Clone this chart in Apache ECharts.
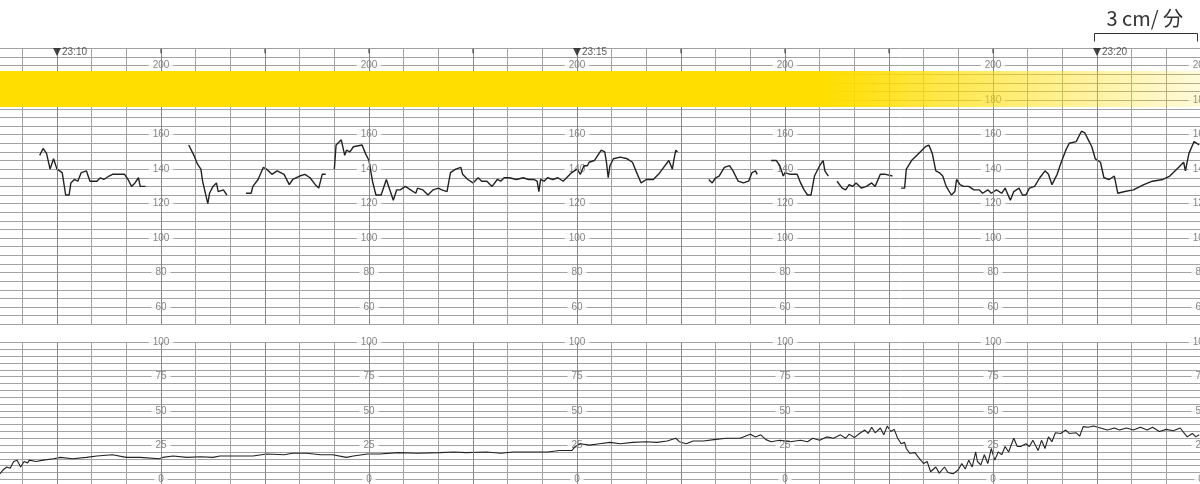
<!DOCTYPE html>
<html><head><meta charset="utf-8">
<script src="https://cdn.jsdelivr.net/npm/echarts@6/dist/echarts.min.js"></script>
<style>html,body{margin:0;padding:0;background:#fff}#c{width:1200px;height:484px}</style>
</head><body><div id="c"></div>
<script>
// time in seconds relative to 23:10:00, fetal heart rate (bpm); null = signal loss
const fhrTrace = [
[-10,148],[-8,152],[-6,149],[-4,140],[-3,140],[-2,146],[-1,146],[0,140],[3,138],[5,125],[7,125],[8,132],[10,134],[12,133],[14,138],[17,139],[19,133],[23,133],[25,135],[27,134],[30,136],[32,137],[39,137],[41,134],[43,130],[45,132],[47,135],[48,130],[49,131],[51,130],
[63,null],
[76,154],[79,148],[81,143],[83,140],[84,133],[87,120],[88,126],[90,130],[92,132],[93,127],[96,128],[98,125],
[104,null],
[109,126],[112,126],[113,130],[116,134],[119,141],[121,140],[124,137],[127,139],[131,137],[134,131],[136,134],[140,136],[143,137],[146,135],[149,131],[151,129],[153,137],[155,137],
[158,null],
[160,140],[161,154],[164,157],[166,148],[167,151],[169,150],[171,153],[176,154],[178,149],[180,145],[182,133],[184,125],[187,125],[190,134],[192,128],[194,122],[196,128],[198,128],[201,130],[204,128],[207,126],[208,129],[211,128],[214,125],[217,128],[220,129],[222,128],[225,127],[227,138],[230,140],[233,141],[234,137],[237,134],[240,132],[243,135],[245,133],[248,133],[251,130],[254,134],[256,133],[258,135],[261,135],[265,134],[269,135],[272,134],[275,134],[277,133],[278,127],[279,134],[281,133],[283,135],[286,134],[289,135],[292,133],[295,136],[297,138],[300,140],[302,137],[304,142],[306,142],[307,144],[310,145],[312,148],[314,151],[316,150],[317,144],[318,135],[319,142],[321,146],[325,147],[329,146],[332,144],[334,139],[337,132],[340,134],[344,134],[347,137],[350,141],[353,145],[354,144],[355,140],[356,146],[357,151],[358,150],
[365,null],
[376,134],[378,132],[380,135],[382,136],[385,141],[388,142],[390,139],[393,133],[396,132],[399,133],[401,138],[403,139],[404,137],
[408,null],
[412,145],[413,146],[415,145],[416,146],[417,142],[419,136],[420,138],[423,137],[427,137],[429,132],[431,128],[433,125],[435,125],[437,136],[440,142],[442,145],[443,139],[445,136],
[447,null],
[450,133],[453,129],[455,128],[457,131],[459,130],[461,132],[464,129],[467,130],[470,132],[472,130],[475,137],[478,137],[482,136],
[485,null],
[487,129],[489,129],[490,140],[493,145],[497,149],[501,153],[503,154],[505,149],[507,139],[509,138],[511,136],[513,130],[516,125],[518,127],[519,134],[521,131],[523,130],[526,130],[529,128],[532,128],[534,126],[537,128],[539,126],[542,128],[545,126],[547,129],[550,122],[552,127],[555,129],[557,125],[559,125],[561,129],[564,130],[567,135],[570,139],[572,137],[574,131],[577,137],[579,143],[582,151],[584,155],[588,156],[591,162],[593,161],[595,157],[597,153],[599,146],[602,144],[604,135],[607,134],[610,136],[612,126],[616,127],[621,128],[627,131],[632,133],[638,134],[642,136],[646,140],[650,144],[651,139],[653,149],[656,156],[659,154]
];
// uterine activity
const uaTrace = [
[-33,4],[-31,7],[-29,9],[-27,8],[-25,13],[-23,14],[-21,9],[-19,13],[-17,12],[-16,14],[-12,13],[-8,14],[-2,15],[2,16],[9,15],[17,16],[23,17],[32,18],[40,16],[48,16],[59,15],[61,16],[67,17],[75,16],[83,16.5],[90,16],[94,17],[102,17],[113,17],[121,18.5],[131,18],[136,19],[144,19],[152,18],[159,18],[167,16],[171,17],[179,18.5],[186,18.5],[197,19.5],[208,19],[221,19.5],[229,20],[236,19.5],[248,20],[256,19],[263,20],[275,20],[283,20],[290,21],[297,21],[299,24],[302,26],[307,25],[313,26],[319,27],[325,26],[332,27],[340,27.5],[346,27],[352,28],[357,30],[359,27.5],[363,26],[367,28],[373,28],[379,29],[386,30],[394,30],[400,33],[403,31],[406,32.5],[409,29],[412,27.5],[417,28.5],[423,27.5],[429,28.5],[433,27.5],[436,30],[440,28.5],[444,31],[448,30],[452,32.5],[455,30],[457,33],[460,30.5],[463,33.5],[466,36],[468,33.5],[470,38],[472,34],[475,37.5],[477,32.5],[479,39],[481,35],[483,36.5],[485,30],[487,26],[489,27],[490,22.5],[492,19],[495,19.5],[497,16],[500,11.5],[502,13],[504,5.5],[507,9],[509,4.5],[512,9],[514,5],[517,4],[520,7],[522,11.5],[524,7.5],[526,14],[528,9],[530,20],[531,13],[533,10.5],[535,18],[537,11.5],[539,22.5],[541,14],[543,20],[545,18],[547,24],[549,20],[552,30],[554,24],[556,24],[559,26],[561,24],[563,28.5],[566,21],[568,28.5],[570,22.5],[572,31],[574,27.5],[576,34],[579,33.5],[582,36],[584,33.5],[588,34],[590,31.5],[592,38.5],[595,38],[598,39],[602,37.5],[606,36],[610,37.5],[613,36],[617,37.5],[621,36],[625,38],[629,36],[632,38],[636,35],[640,36.5],[644,35.5],[648,37.5],[652,31],[655,33.5],[657,31],[659,32.5]
];
const fhrTickLabels = [200,180,160,140,120,100,80,60];
const uaTickLabels = [100,75,50,25,0];
const labelSeconds = [60,180,300,420,540,660];
const timeMarkSeconds = [0,300,600];
const timeMarkLabels = ['23:10','23:15','23:20'];
const minuteSeconds = [0,60,120,180,240,300,360,420,480,540,600,660];
const minuteTickSeconds = [60,120,180,240,360,420,480,540,660];
const highlightBand = [176,197];
const speedText = '3 cm/ 分';

const chart = echarts.init(document.getElementById('c'), null, {renderer:'canvas'});
const FONT = '"Liberation Sans", Arial, sans-serif';
const gridColor = '#a2a2a2';
const minuteColor = '#888';

function xAxis(gi){
  return {type:'value', gridIndex:gi, min:-40, max:660, interval:20,
    axisLine:{show:false}, axisTick:{show:false}, axisLabel:{show:false},
    splitLine:{show:true, lineStyle:{color:gridColor, width:1}}};
}
function yAxis(gi, mn, mx){
  return {type:'value', gridIndex:gi, min:mn, max:mx, interval:5,
    axisLine:{show:false}, axisTick:{show:false}, axisLabel:{show:false},
    splitLine:{show:true, lineStyle:{color:gridColor, width:1}}};
}
const tickLabelStyle = {show:true, position:'inside', fontSize:10, color:'#666', fontFamily:FONT,
  backgroundColor:'#fff', padding:[0,4], formatter:p=>String(p.value[1])};

const fhrLabelData = [];
labelSeconds.forEach(s=>fhrTickLabels.forEach(v=>fhrLabelData.push([s,v])));
const uaLabelData = [];
labelSeconds.forEach(s=>uaTickLabels.forEach(v=>uaLabelData.push([s,v])));

const minuteLines = minuteSeconds.map(s=>({xAxis:s}));

const band = new echarts.graphic.LinearGradient(0,0,1,0,[
  {offset:0, color:'rgba(255,222,0,1)'},
  {offset:0.69, color:'rgba(255,222,0,1)'},
  {offset:0.84, color:'rgba(255,222,0,0.55)'},
  {offset:1, color:'rgba(255,222,0,0.14)'}
]);

chart.setOption({
  animation:false,
  backgroundColor:'#fff',
  title:{text:speedText, right:12, top:3, textStyle:{fontSize:20, fontWeight:'normal', color:'#333',
    fontFamily:'"Noto Sans CJK JP","Noto Sans", sans-serif'}},
  grid:[
    {left:-12.333, width:1213.333, top:48.5, height:275.76, outerBoundsMode:'none', containLabel:false},
    {left:-12.333, width:1213.333, top:342.5, height:143.64, outerBoundsMode:'none', containLabel:false}
  ],
  xAxis:[xAxis(0), xAxis(1)],
  yAxis:[yAxis(0,50,210), yAxis(1,-5,100)],
  graphic:[
    {type:'polyline', silent:true, shape:{points:[[1094.5,41.5],[1094.5,33.5],[1197.5,33.5],[1197.5,41.5]]},
     style:{stroke:'#333', lineWidth:1, fill:null}}
  ],
  series:[
    {type:'scatter', xAxisIndex:0, yAxisIndex:0, data:fhrLabelData, symbolSize:0, silent:true, z:3,
     label:tickLabelStyle},
    {type:'scatter', xAxisIndex:1, yAxisIndex:1, data:uaLabelData, symbolSize:0, silent:true, z:3,
     label:tickLabelStyle},
    {type:'line', xAxisIndex:0, yAxisIndex:0, data:fhrTrace, showSymbol:false, connectNulls:false, z:4,
     lineStyle:{color:'#222', width:1.4}, silent:true,
     markLine:{silent:true, symbol:'none', label:{show:false}, lineStyle:{color:minuteColor, width:1, type:'solid'}, data:minuteLines}},
    {type:'line', xAxisIndex:1, yAxisIndex:1, data:uaTrace, showSymbol:false, z:4,
     lineStyle:{color:'#222', width:1.1}, silent:true,
     markLine:{silent:true, symbol:'none', label:{show:false}, lineStyle:{color:minuteColor, width:1, type:'solid'}, data:minuteLines}},
    {type:'line', xAxisIndex:0, yAxisIndex:0, data:[], z:10, silent:true,
     markArea:{silent:true, z:10, itemStyle:{color:band}, data:[[{yAxis:highlightBand[0]},{yAxis:highlightBand[1]}]]}},
    {type:'scatter', xAxisIndex:0, yAxisIndex:0, data:minuteTickSeconds.map(s=>[s,208.6]), silent:true, z:6,
     symbol:'rect', symbolSize:[1.4,4.5], itemStyle:{color:'#444'}},
    {type:'scatter', xAxisIndex:0, yAxisIndex:0, data:timeMarkSeconds.map(s=>[s,208]), silent:true, z:6,
     symbol:'triangle', symbolRotate:180, symbolSize:[8,8], itemStyle:{color:'#1a1a1a'},
     label:{show:true, position:'right', distance:1, fontSize:10, color:'#333', fontFamily:FONT,
       formatter:p=>timeMarkLabels[timeMarkSeconds.indexOf(p.value[0])]}}
  ]
});
</script></body></html>
